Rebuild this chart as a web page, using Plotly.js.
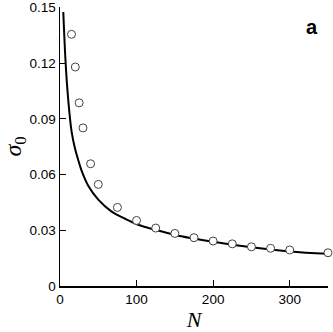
<!DOCTYPE html>
<html>
<head>
<meta charset="utf-8">
<script src="https://cdn.plot.ly/plotly-3.0.1.min.js"></script>
<style>
  html, body { margin: 0; padding: 0; background: #fff; }
  #chart { width: 333px; height: 332px; }
</style>
</head>
<body>
<div id="chart"></div>
<script>
// measured points (open circles)
const pointN = [15, 20, 25, 30, 40, 50, 75, 100, 125, 150, 175, 200, 225, 250, 275, 300, 350];
const pointSigma = [0.1355, 0.1179, 0.0986, 0.0851, 0.0658, 0.0547, 0.0423, 0.0353, 0.0312,
                    0.0283, 0.0260, 0.0242, 0.0227, 0.0211, 0.0203, 0.0194, 0.0179];

// theory curve
const curveN = [4.3, 7.4, 10.8, 15.2, 19.6, 23.9, 28.3, 36.9, 50, 67, 85, 102, 124, 150, 200, 250, 300, 350];
const curveSigma = [0.1475, 0.1197, 0.1000, 0.0830, 0.0740, 0.0677, 0.0620, 0.0540, 0.0465, 0.0402,
                    0.0362, 0.0330, 0.0303, 0.0275, 0.0238, 0.0208, 0.0186, 0.0173];

const xTicks = [0, 100, 200, 300];
const yTicks = [0, 0.03, 0.06, 0.09, 0.12, 0.15];
const yTickText = ['0', '0.03', '0.06', '0.09', '0.12', '0.15'];

function draw_chart() {
    const curve = {
        type: 'scatter',
        mode: 'lines',
        x: curveN,
        y: curveSigma,
        line: { color: '#000', width: 2, shape: 'spline' },
        hoverinfo: 'skip'
    };

    const points = {
        type: 'scatter',
        mode: 'markers',
        x: pointN,
        y: pointSigma,
        marker: {
            symbol: 'circle',
            size: 8,
            color: '#fff',
            line: { color: '#444', width: 1 }
        },
        cliponaxis: false
    };

    const axisCommon = {
        showgrid: false,
        zeroline: false,
        showline: true,
        linecolor: '#000',
        linewidth: 1.5,
        ticks: 'inside',
        ticklen: 6,
        tickwidth: 1,
        tickcolor: '#000',
        ticklabeloverflow: 'allow',
        tickfont: { family: 'Liberation Sans', size: 13.5, color: '#000' }
    };

    const layout = {
        width: 333,
        height: 332,
        margin: { l: 60, r: 5, t: 7, b: 46 },
        paper_bgcolor: '#fff',
        plot_bgcolor: '#fff',
        showlegend: false,
        xaxis: Object.assign({}, axisCommon, {
            range: [0, 350],
            tickvals: xTicks,
            ticktext: xTicks.map(String),
            title: {
                text: '<i>N</i>',
                font: { family: 'Liberation Serif', size: 22, color: '#000' },
                standoff: 11
            }
        }),
        yaxis: Object.assign({}, axisCommon, {
            range: [0, 0.1502],
            tickvals: yTicks,
            ticktext: yTickText,
            title: {
                text: '<i>σ</i><sub>0</sub>',
                font: { family: 'Liberation Serif', size: 24, color: '#000' },
                standoff: 8
            }
        }),
        annotations: [{
            text: 'a',
            xref: 'paper', yref: 'paper',
            x: 0.94, y: 0.93,
            xanchor: 'center', yanchor: 'middle',
            showarrow: false,
            font: { family: 'Liberation Sans', size: 20, weight: 'bold', color: '#000' }
        }]
    };

    Plotly.newPlot('chart', [curve, points], layout, { displayModeBar: false, staticPlot: true });
}

draw_chart();
</script>
</body>
</html>
